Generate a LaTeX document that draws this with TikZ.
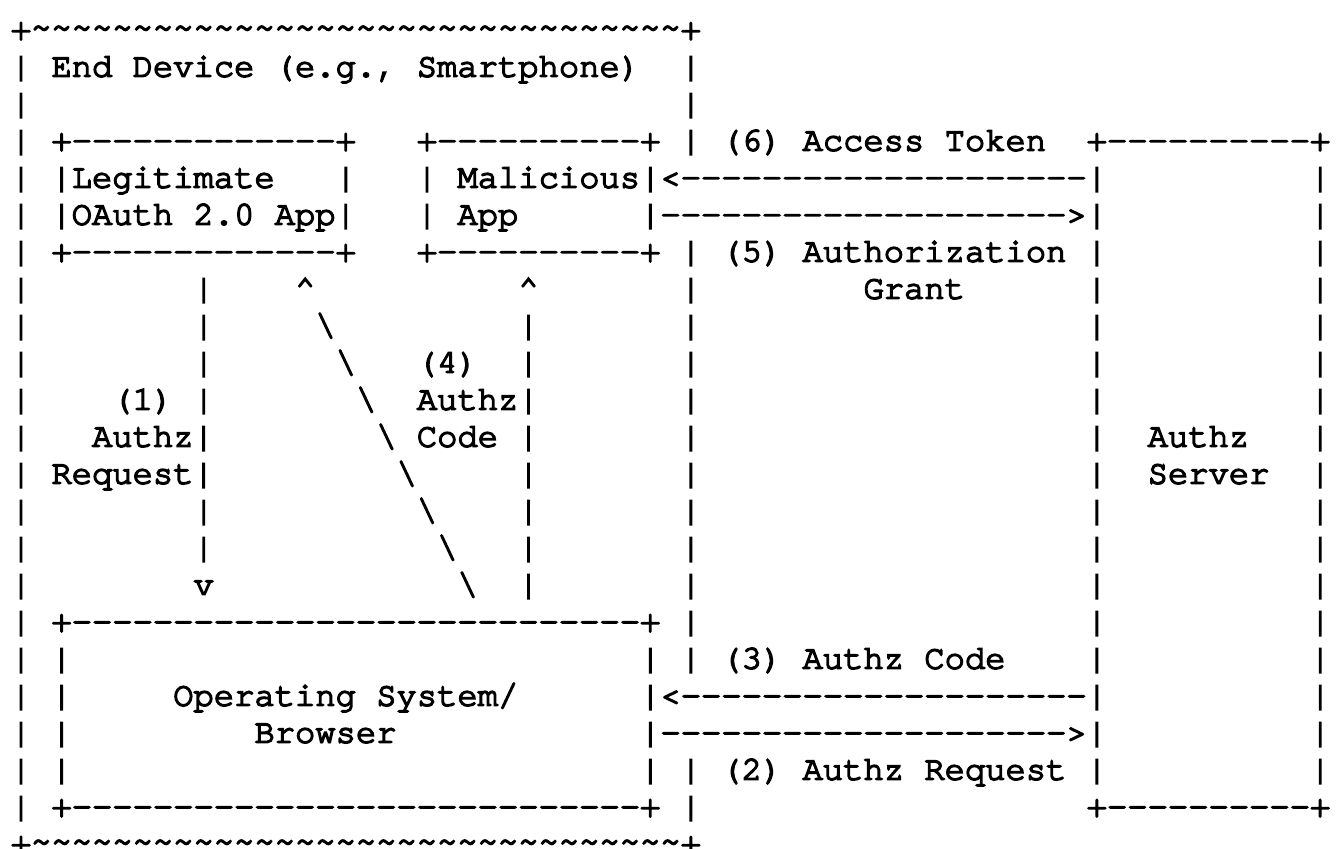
\documentclass[tikz,border=0pt]{standalone}
\usepackage{fontspec}
\newfontfamily\asc{TeX Gyre Cursor}[FakeBold=4.5]
\ExplSyntaxOn
\cs_new:Npn \chrep #1#2 { \prg_replicate:nn {#1} {#2} }
\ExplSyntaxOff
\newcommand\dsh[1]{\chrep{#1}{-{}}}
\newcommand\tl[1]{\raisebox{2pt}{\chrep{#1}{\textasciitilde}}}
\newcommand\bs{\textbackslash}
\newcommand\up{\textasciicircum}
\tikzset{ascii/.style={anchor=base west,inner sep=0pt,outer sep=0pt,
  font=\asc\fontsize{33.83}{37}\selectfont\frenchspacing}}
\newcommand\gx[3]{\node[ascii] (c#1r#2) at ({10.85+20.3*#1},{39.7+37*#2}) {#3};}
\begin{document}
\begin{tikzpicture}[x=1pt,y=-1pt]
\fill[white] (0,0) rectangle (1340,848);
\useasboundingbox (0,0) rectangle (1340,848);
% row 0
\gx{0}{0}{+}\gx{1}{0}{\tl{32}}\gx{33}{0}{+}
% row 1
\gx{0}{1}{|}\gx{2}{1}{End Device (e.g., Smartphone)}\gx{33}{1}{|}
% row 2
\gx{0}{2}{|}\gx{33}{2}{|}
% row 3
\gx{0}{3}{|}\gx{2}{3}{+\dsh{13}+}\gx{20}{3}{+\dsh{10}+}\gx{33}{3}{|}\gx{35}{3}{(6) Access Token}\gx{53}{3}{+\dsh{10}+}
% row 4
\gx{0}{4}{|}\gx{2}{4}{|Legitimate}\gx{16}{4}{|}\gx{20}{4}{|}\gx{22}{4}{Malicious|<\dsh{20}|}\gx{64}{4}{|}
% row 5
\gx{0}{5}{|}\gx{2}{5}{|OAuth 2.0 App|}\gx{20}{5}{|}\gx{22}{5}{App}\gx{31}{5}{|\dsh{20}>|}\gx{64}{5}{|}
% row 6
\gx{0}{6}{|}\gx{2}{6}{+\dsh{13}+}\gx{20}{6}{+\dsh{10}+}\gx{33}{6}{|}\gx{35}{6}{(5) Authorization}\gx{53}{6}{|}\gx{64}{6}{|}
% row 7
\gx{0}{7}{|}\gx{9}{7}{|}\gx{14}{7}{\up}\gx{25}{7}{\up}\gx{33}{7}{|}\gx{42}{7}{Grant}\gx{53}{7}{|}\gx{64}{7}{|}
% row 8
\gx{0}{8}{|}\gx{9}{8}{|}\gx{15}{8}{\bs}\gx{25}{8}{|}\gx{33}{8}{|}\gx{53}{8}{|}\gx{64}{8}{|}
% row 9
\gx{0}{9}{|}\gx{9}{9}{|}\gx{16}{9}{\bs}\gx{20}{9}{(4)}\gx{25}{9}{|}\gx{33}{9}{|}\gx{53}{9}{|}\gx{64}{9}{|}
% row 10
\gx{0}{10}{|}\gx{5}{10}{(1)}\gx{9}{10}{|}\gx{17}{10}{\bs}\gx{20}{10}{Authz|}\gx{33}{10}{|}\gx{53}{10}{|}\gx{64}{10}{|}
% row 11
\gx{0}{11}{|}\gx{4}{11}{Authz|}\gx{18}{11}{\bs}\gx{20}{11}{Code}\gx{25}{11}{|}\gx{33}{11}{|}\gx{53}{11}{|}\gx{56}{11}{Authz}\gx{64}{11}{|}
% row 12
\gx{0}{12}{|}\gx{2}{12}{Request|}\gx{19}{12}{\bs}\gx{25}{12}{|}\gx{33}{12}{|}\gx{53}{12}{|}\gx{56}{12}{Server}\gx{64}{12}{|}
% row 13
\gx{0}{13}{|}\gx{9}{13}{|}\gx{20}{13}{\bs}\gx{25}{13}{|}\gx{33}{13}{|}\gx{53}{13}{|}\gx{64}{13}{|}
% row 14
\gx{0}{14}{|}\gx{9}{14}{|}\gx{21}{14}{\bs}\gx{25}{14}{|}\gx{33}{14}{|}\gx{53}{14}{|}\gx{64}{14}{|}
% row 15
\gx{0}{15}{|}\gx{9}{15}{v}\gx{22}{15}{\bs}\gx{25}{15}{|}\gx{33}{15}{|}\gx{53}{15}{|}\gx{64}{15}{|}
% row 16
\gx{0}{16}{|}\gx{2}{16}{+\dsh{28}+}\gx{33}{16}{|}\gx{53}{16}{|}\gx{64}{16}{|}
% row 17
\gx{0}{17}{|}\gx{2}{17}{|}\gx{31}{17}{|}\gx{33}{17}{|}\gx{35}{17}{(3) Authz Code}\gx{53}{17}{|}\gx{64}{17}{|}
% row 18
\gx{0}{18}{|}\gx{2}{18}{|}\gx{8}{18}{Operating System/}\gx{31}{18}{|<\dsh{20}|}\gx{64}{18}{|}
% row 19
\gx{0}{19}{|}\gx{2}{19}{|}\gx{12}{19}{Browser}\gx{31}{19}{|\dsh{20}>|}\gx{64}{19}{|}
% row 20
\gx{0}{20}{|}\gx{2}{20}{|}\gx{31}{20}{|}\gx{33}{20}{|}\gx{35}{20}{(2) Authz Request}\gx{53}{20}{|}\gx{64}{20}{|}
% row 21
\gx{0}{21}{|}\gx{2}{21}{+\dsh{28}+}\gx{33}{21}{|}\gx{53}{21}{+\dsh{10}+}
% row 22
\gx{0}{22}{+}\gx{1}{22}{\tl{32}}\gx{33}{22}{+}
\end{tikzpicture}
\end{document}
